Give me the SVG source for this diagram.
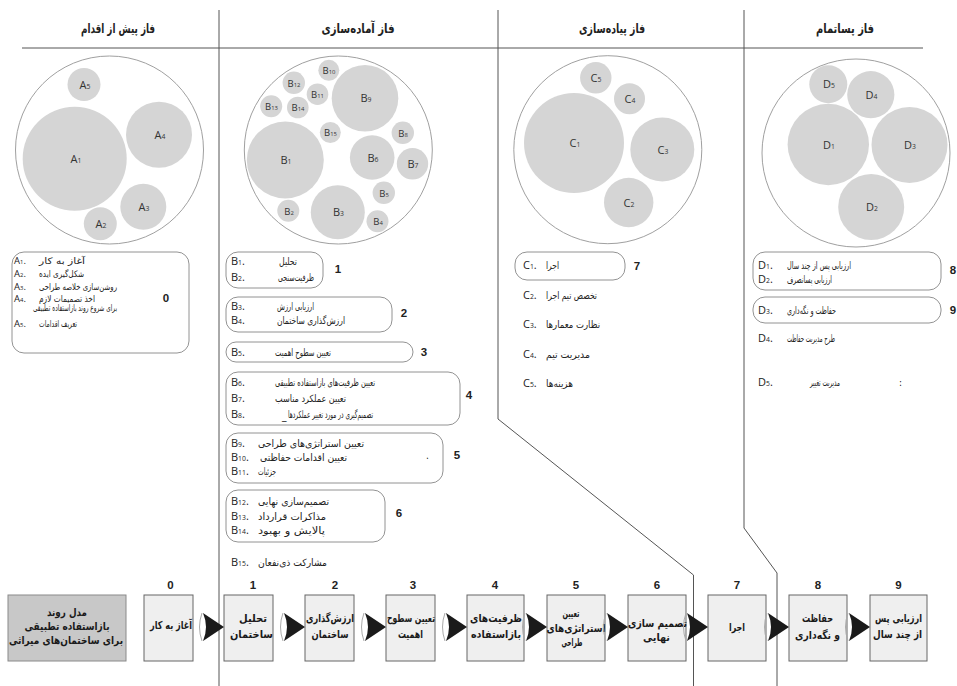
<svg xmlns="http://www.w3.org/2000/svg" width="957" height="686" viewBox="0 0 957 686">
<style>
.div{fill:none;stroke:#555;stroke-width:1}
.hd{font-family:'DejaVu Sans Condensed','DejaVu Sans',sans-serif;font-weight:bold;font-size:13px;fill:#222;text-anchor:middle}
.ring{fill:#fff;stroke:#a0a0a0;stroke-width:1}
.bub{fill:#d5d5d5}
.cl{font-family:'Open Sans','Liberation Sans',sans-serif;font-size:11px;fill:#333;text-anchor:middle}
.cs{font-family:'Open Sans','Liberation Sans',sans-serif;font-size:9.5px;fill:#333;text-anchor:middle}
.s{font-size:0.62em}
.lb{fill:#fff;stroke:#777;stroke-width:0.8}
.lab{font-family:'Open Sans','Liberation Sans',sans-serif;font-size:11px;fill:#222}
.la{font-size:9.5px}
.fa{font-family:'DejaVu Sans Condensed','DejaVu Sans',sans-serif;font-size:10px;fill:#222}
.fs{font-size:9px}
.fe{text-anchor:end}
.num{font-family:'Liberation Sans',Arial,sans-serif;font-weight:bold;font-size:11.5px;fill:#222;text-anchor:middle}
.fb{fill:#efefef;stroke:#666;stroke-width:1}
.mb{fill:#c8c8c8;stroke:#8a8a8a;stroke-width:1}
.ft{font-family:'DejaVu Sans Condensed','DejaVu Sans',sans-serif;font-weight:bold;font-size:11px;fill:#1a1a1a;text-anchor:middle}
.arr{fill:#1a1a1a}
.arc{fill:none;stroke:#aaa;stroke-width:1}
</style>
<defs>
<g id="tri"><path class="arc" d="M-22,-14 Q-27,0 -22,14"/><path class="arr" d="M-21,-14 Q-15,0 -21,14 L0,0 Z"/></g>
</defs>
<rect width="957" height="686" fill="#fff"/>

<g id="phase-lines">
<line class="div" x1="22" y1="48" x2="923" y2="48"/>
<path class="div" d="M219,10 V686"/>
<path class="div" d="M498,10 V419 L693.5,575 V686"/>
<path class="div" d="M744,10 V528 L777,573 V686"/>
</g>

<g id="phase-headers">
<text class="hd" x="118" y="33" textLength="74" lengthAdjust="spacingAndGlyphs">فاز پیش از اقدام</text>
<text class="hd" x="358" y="33" textLength="73" lengthAdjust="spacingAndGlyphs">فاز آماده‌سازی</text>
<text class="hd" x="612" y="33" textLength="66" lengthAdjust="spacingAndGlyphs">فاز پیاده‌سازی</text>
<text class="hd" x="845" y="33" textLength="58" lengthAdjust="spacingAndGlyphs">فاز پساتمام</text>
</g>

<g id="circles-A">
<circle class="ring" cx="109.5" cy="150" r="94"/>
<circle class="bub" cx="74.7" cy="158.7" r="52"/>
<circle class="bub" cx="159" cy="134.7" r="33"/>
<circle class="bub" cx="84" cy="84.5" r="16.5"/>
<circle class="bub" cx="143.3" cy="206.7" r="23"/>
<circle class="bub" cx="100.3" cy="223.7" r="16.5"/>
<text class="cl" x="76" y="163">A<tspan class="s">1</tspan></text>
<text class="cl" x="160" y="139">A<tspan class="s">4</tspan></text>
<text class="cl" x="85" y="89">A<tspan class="s">5</tspan></text>
<text class="cl" x="144" y="211">A<tspan class="s">3</tspan></text>
<text class="cl" x="101" y="228">A<tspan class="s">2</tspan></text>
</g>

<g id="circles-B">
<circle class="ring" cx="338.3" cy="150" r="94"/>
<circle class="bub" cx="285.3" cy="160" r="38.5"/>
<circle class="bub" cx="365" cy="98.3" r="33.3"/>
<circle class="bub" cx="337.8" cy="212.2" r="27"/>
<circle class="bub" cx="372.2" cy="157.5" r="22.3"/>
<circle class="bub" cx="412.5" cy="163.8" r="15.7"/>
<circle class="bub" cx="402.8" cy="132.8" r="11.2"/>
<circle class="bub" cx="383.8" cy="192.8" r="11.2"/>
<circle class="bub" cx="377.5" cy="221.2" r="11"/>
<circle class="bub" cx="288.3" cy="210.8" r="11"/>
<circle class="bub" cx="330.3" cy="132.5" r="10.5"/>
<circle class="bub" cx="328.8" cy="70.3" r="10.5"/>
<circle class="bub" cx="317.5" cy="94.2" r="10.8"/>
<circle class="bub" cx="293.8" cy="82.8" r="11.2"/>
<circle class="bub" cx="297.8" cy="107.5" r="10.8"/>
<circle class="bub" cx="271.2" cy="106.2" r="11"/>
<text class="cl" x="286" y="164">B<tspan class="s">1</tspan></text>
<text class="cl" x="366" y="102">B<tspan class="s">9</tspan></text>
<text class="cl" x="338.5" y="216">B<tspan class="s">3</tspan></text>
<text class="cl" x="373" y="161.5">B<tspan class="s">6</tspan></text>
<text class="cl" x="413" y="168">B<tspan class="s">7</tspan></text>
<text class="cs" x="403" y="136.5">B<tspan class="s">8</tspan></text>
<text class="cs" x="384" y="196.5">B<tspan class="s">5</tspan></text>
<text class="cs" x="378" y="225">B<tspan class="s">4</tspan></text>
<text class="cs" x="289" y="214.5">B<tspan class="s">2</tspan></text>
<text class="cs" x="330.5" y="136">B<tspan class="s">15</tspan></text>
<text class="cs" x="329" y="74">B<tspan class="s">10</tspan></text>
<text class="cs" x="317.5" y="98">B<tspan class="s">11</tspan></text>
<text class="cs" x="294" y="86.5">B<tspan class="s">12</tspan></text>
<text class="cs" x="298" y="111">B<tspan class="s">14</tspan></text>
<text class="cs" x="271.5" y="110">B<tspan class="s">13</tspan></text>
</g>

<g id="circles-C">
<circle class="ring" cx="607.8" cy="149.7" r="94"/>
<circle class="bub" cx="574" cy="143" r="50"/>
<circle class="bub" cx="662.3" cy="149.5" r="32"/>
<circle class="bub" cx="628.7" cy="202.5" r="24.7"/>
<circle class="bub" cx="629.5" cy="98.7" r="15.5"/>
<circle class="bub" cx="595.8" cy="77.8" r="15.7"/>
<text class="cl" x="575" y="147">C<tspan class="s">1</tspan></text>
<text class="cl" x="663" y="153.5">C<tspan class="s">3</tspan></text>
<text class="cl" x="629" y="206.5">C<tspan class="s">2</tspan></text>
<text class="cl" x="630" y="102.5">C<tspan class="s">4</tspan></text>
<text class="cl" x="596" y="82">C<tspan class="s">5</tspan></text>
</g>

<g id="circles-D">
<circle class="ring" cx="856" cy="153" r="94"/>
<circle class="bub" cx="828.3" cy="144.5" r="40.7"/>
<circle class="bub" cx="909.5" cy="145" r="38"/>
<circle class="bub" cx="871.2" cy="207" r="33"/>
<circle class="bub" cx="870.8" cy="94.7" r="23.6"/>
<circle class="bub" cx="828.3" cy="84.2" r="19"/>
<text class="cl" x="829" y="148.5">D<tspan class="s">1</tspan></text>
<text class="cl" x="910" y="149">D<tspan class="s">3</tspan></text>
<text class="cl" x="872" y="211">D<tspan class="s">2</tspan></text>
<text class="cl" x="871.5" y="98.5">D<tspan class="s">4</tspan></text>
<text class="cl" x="829" y="88">D<tspan class="s">5</tspan></text>
</g>

<g id="list-A">
<rect class="lb" x="12" y="252" width="177" height="101" rx="12"/>
<text class="lab la" x="14" y="263.5">A<tspan class="s">1</tspan>.</text><text class="fa fs" x="39" y="263.5" textLength="46" lengthAdjust="spacingAndGlyphs">آغاز به کار</text>
<text class="lab la" x="14" y="277">A<tspan class="s">2</tspan>.</text><text class="fa fs" x="39" y="277" textLength="45" lengthAdjust="spacingAndGlyphs">شکل‌گیری ایده</text>
<text class="lab la" x="14" y="290">A<tspan class="s">3</tspan>.</text><text class="fa fs" x="39" y="290" textLength="78" lengthAdjust="spacingAndGlyphs">روشن‌سازی خلاصه طراحی</text>
<text class="lab la" x="14" y="301.5">A<tspan class="s">4</tspan>.</text><text class="fa fs" x="39" y="301.5" textLength="56" lengthAdjust="spacingAndGlyphs">اخذ تصمیمات لازم</text>
<text class="fa fs fe" x="117" y="311" textLength="84" lengthAdjust="spacingAndGlyphs">برای شروع روند بازاستفاده تطبیقی</text>
<text class="lab la" x="14" y="327">A<tspan class="s">5</tspan>.</text><text class="fa fs" x="39" y="327" textLength="38" lengthAdjust="spacingAndGlyphs">تعریف اقدامات</text>
<text class="num" x="166" y="302">0</text>
</g>

<g id="list-B1">
<rect class="lb" x="226" y="252" width="97" height="36" rx="12"/>
<text class="lab" x="231" y="264.5">B<tspan class="s">1</tspan>.</text><text class="fa" x="279" y="264.5" textLength="18" lengthAdjust="spacingAndGlyphs">تحلیل</text>
<text class="lab" x="231" y="280.5">B<tspan class="s">2</tspan>.</text><text class="fa" x="278" y="280.5" textLength="36" lengthAdjust="spacingAndGlyphs">ظرفیت‌سنجی</text>
<text class="num" x="338" y="273">1</text>
</g>
<g id="list-B2">
<rect class="lb" x="226" y="297" width="166" height="35" rx="12"/>
<text class="lab" x="231" y="309.5">B<tspan class="s">3</tspan>.</text><text class="fa" x="277" y="309.5" textLength="37" lengthAdjust="spacingAndGlyphs">ارزیابی ارزش</text>
<text class="lab" x="231" y="323.5">B<tspan class="s">4</tspan>.</text><text class="fa" x="277" y="323.5" textLength="68" lengthAdjust="spacingAndGlyphs">ارزش‌گذاری ساختمان</text>
<text class="num" x="404" y="317">2</text>
</g>
<g id="list-B3">
<rect class="lb" x="226" y="342" width="187" height="20" rx="10"/>
<text class="lab" x="231" y="356">B<tspan class="s">5</tspan>.</text><text class="fa" x="275" y="356" textLength="56" lengthAdjust="spacingAndGlyphs">تعیین سطوح اهمیت</text>
<text class="num" x="424" y="356">3</text>
</g>
<g id="list-B4">
<rect class="lb" x="226" y="372" width="234" height="53" rx="12"/>
<text class="lab" x="231" y="386">B<tspan class="s">6</tspan>.</text><text class="fa" x="275" y="386" textLength="100" lengthAdjust="spacingAndGlyphs">تعیین ظرفیت‌های بازاستفاده تطبیقی</text>
<text class="lab" x="231" y="402">B<tspan class="s">7</tspan>.</text><text class="fa" x="275" y="402" textLength="71" lengthAdjust="spacingAndGlyphs">تعیین عملکرد مناسب</text>
<text class="lab" x="231" y="417.5">B<tspan class="s">8</tspan>.</text><text class="fa" x="282" y="418.5">_</text><text class="fa" x="288" y="417.5" textLength="85" lengthAdjust="spacingAndGlyphs">تصمیم‌گیری در مورد تغییر عملکردها</text>
<text class="num" x="469" y="399">4</text>
</g>
<g id="list-B5">
<rect class="lb" x="226" y="433" width="217" height="50" rx="12"/>
<text class="lab" x="231" y="447">B<tspan class="s">9</tspan>.</text><text class="fa" x="258" y="447" textLength="106" lengthAdjust="spacingAndGlyphs">تعیین استراتژی‌های طراحی</text>
<text class="lab" x="231" y="461">B<tspan class="s">10</tspan>.</text><text class="fa" x="260" y="461" textLength="87" lengthAdjust="spacingAndGlyphs">تعیین اقدامات حفاظتی</text>
<text class="lab" x="231" y="475">B<tspan class="s">11</tspan>.</text><text class="fa" x="258" y="475" textLength="18" lengthAdjust="spacingAndGlyphs">جزئیات</text>
<text class="fa" x="426" y="459">.</text>
<text class="num" x="457" y="459">5</text>
</g>
<g id="list-B6">
<rect class="lb" x="226" y="490" width="159" height="52" rx="12"/>
<text class="lab" x="231" y="504.5">B<tspan class="s">12</tspan>.</text><text class="fa" x="258" y="504.5" textLength="71" lengthAdjust="spacingAndGlyphs">تصمیم‌سازی نهایی</text>
<text class="lab" x="231" y="520">B<tspan class="s">13</tspan>.</text><text class="fa" x="258" y="520" textLength="68" lengthAdjust="spacingAndGlyphs">مذاکرات قرارداد</text>
<text class="lab" x="231" y="534">B<tspan class="s">14</tspan>.</text><text class="fa" x="258" y="534" textLength="67" lengthAdjust="spacingAndGlyphs">پالایش و بهبود</text>
<text class="num" x="399" y="517">6</text>
</g>
<g id="list-B15">
<text class="lab" x="231" y="566">B<tspan class="s">15</tspan>.</text><text class="fa" x="258" y="566" textLength="69" lengthAdjust="spacingAndGlyphs">مشارکت ذی‌نفعان</text>
</g>

<g id="list-C">
<rect class="lb" x="515" y="252" width="110" height="28" rx="12"/>
<text class="lab" x="523" y="269">C<tspan class="s">1</tspan>.</text><text class="fa" x="546" y="269" textLength="13" lengthAdjust="spacingAndGlyphs">اجرا</text>
<text class="num" x="637" y="270">7</text>
<text class="lab" x="523" y="299">C<tspan class="s">2</tspan>.</text><text class="fa" x="546" y="299" textLength="51" lengthAdjust="spacingAndGlyphs">تخصص تیم اجرا</text>
<text class="lab" x="523" y="328">C<tspan class="s">3</tspan>.</text><text class="fa" x="546" y="328" textLength="54" lengthAdjust="spacingAndGlyphs">نظارت معمارها</text>
<text class="lab" x="523" y="357.5">C<tspan class="s">4</tspan>.</text><text class="fa" x="546" y="357.5" textLength="44" lengthAdjust="spacingAndGlyphs">مدیریت تیم</text>
<text class="lab" x="523" y="386.5">C<tspan class="s">5</tspan>.</text><text class="fa" x="546" y="386.5" textLength="27" lengthAdjust="spacingAndGlyphs">هزینه‌ها</text>
</g>

<g id="list-D">
<rect class="lb" x="753" y="252" width="188" height="38" rx="12"/>
<text class="lab" x="758" y="269">D<tspan class="s">1</tspan>.</text><text class="fa" x="787" y="269" textLength="64" lengthAdjust="spacingAndGlyphs">ارزیابی پس از چند سال</text>
<text class="lab" x="758" y="283">D<tspan class="s">2</tspan>.</text><text class="fa" x="787" y="283" textLength="45" lengthAdjust="spacingAndGlyphs">ارزیابی پسانصرف</text>
<text class="num" x="953" y="274">8</text>
<rect class="lb" x="753" y="297" width="188" height="26" rx="12"/>
<text class="lab" x="758" y="314">D<tspan class="s">3</tspan>.</text><text class="fa" x="787" y="314" textLength="49" lengthAdjust="spacingAndGlyphs">حفاظت و نگه‌داری</text>
<text class="num" x="953" y="314">9</text>
<text class="lab" x="758" y="341.5">D<tspan class="s">4</tspan>.</text><text class="fa" x="787" y="341.5" textLength="48" lengthAdjust="spacingAndGlyphs">طرح مدیریت حفاظت</text>
<text class="lab" x="758" y="385.5">D<tspan class="s">5</tspan>.</text><text class="fa" x="810" y="385.5" textLength="30" lengthAdjust="spacingAndGlyphs">مدیریت تغییر</text>
<text class="fa" x="899" y="385.5">:</text>
</g>

<g id="model">
<rect class="mb" x="8" y="595" width="118" height="66"/>
<text class="ft" x="67" y="615.5" textLength="40" lengthAdjust="spacingAndGlyphs">مدل روند</text>
<text class="ft" x="67" y="629.5" textLength="85" lengthAdjust="spacingAndGlyphs">بازاستفاده تطبیقی</text>
<text class="ft" x="66" y="644" textLength="114" lengthAdjust="spacingAndGlyphs">برای ساختمان‌های میراثی</text>
</g>
<g id="step-0"><rect class="fb" x="144" y="595" width="49" height="66"/><text class="ft" x="171" y="629" textLength="42" lengthAdjust="spacingAndGlyphs">آغاز به کار</text><text class="num" x="170.5" y="589">0</text></g>
<g id="step-1"><rect class="fb" x="224" y="595" width="49" height="66"/><text class="ft" x="253" y="622" textLength="28" lengthAdjust="spacingAndGlyphs">تحلیل</text><text class="ft" x="251.5" y="637.5" textLength="43" lengthAdjust="spacingAndGlyphs">ساختمان</text><text class="num" x="253" y="589">1</text></g>
<g id="step-2"><rect class="fb" x="305" y="595" width="49" height="66"/><text class="ft" x="330" y="622" textLength="48" lengthAdjust="spacingAndGlyphs">ارزش‌گذاری</text><text class="ft" x="330" y="637.5" textLength="37" lengthAdjust="spacingAndGlyphs">ساختمان</text><text class="num" x="335" y="589">2</text></g>
<g id="step-3"><rect class="fb" x="386" y="595" width="49" height="66"/><text class="ft" x="411" y="622" textLength="48" lengthAdjust="spacingAndGlyphs">تعیین سطوح</text><text class="ft" x="410.5" y="637.5" textLength="25" lengthAdjust="spacingAndGlyphs">اهمیت</text><text class="num" x="413" y="589">3</text></g>
<g id="step-4"><rect class="fb" x="467" y="595" width="57" height="66"/><text class="ft" x="496" y="622" textLength="52" lengthAdjust="spacingAndGlyphs">ظرفیت‌های</text><text class="ft" x="496" y="637.5" textLength="50" lengthAdjust="spacingAndGlyphs">بازاستفاده</text><text class="num" x="495" y="589">4</text></g>
<g id="step-5"><rect class="fb" x="547" y="595" width="58" height="66"/><text class="ft" x="571" y="617" textLength="17" lengthAdjust="spacingAndGlyphs">تعیین</text><text class="ft" x="576" y="631.5" textLength="59" lengthAdjust="spacingAndGlyphs">استراتژی‌های</text><text class="ft" x="572" y="646" textLength="21" lengthAdjust="spacingAndGlyphs">طراحی</text><text class="num" x="576" y="589">5</text></g>
<g id="step-6"><rect class="fb" x="628" y="595" width="58" height="66"/><text class="ft" x="657.5" y="626.5" textLength="59" lengthAdjust="spacingAndGlyphs">تصمیم سازی</text><text class="ft" x="656.5" y="641" textLength="27" lengthAdjust="spacingAndGlyphs">نهایی</text><text class="num" x="657" y="589">6</text></g>
<g id="step-7"><rect class="fb" x="708" y="595" width="58" height="66"/><text class="ft" x="737" y="630.5" textLength="16" lengthAdjust="spacingAndGlyphs">اجرا</text><text class="num" x="737" y="589">7</text></g>
<g id="step-8"><rect class="fb" x="789" y="595" width="58" height="66"/><text class="ft" x="817.5" y="622" textLength="31" lengthAdjust="spacingAndGlyphs">حفاظت</text><text class="ft" x="817.5" y="638.5" textLength="45" lengthAdjust="spacingAndGlyphs">و نگه‌داری</text><text class="num" x="818" y="589">8</text></g>
<g id="step-9"><rect class="fb" x="870" y="595" width="57" height="66"/><text class="ft" x="898.5" y="622" textLength="47" lengthAdjust="spacingAndGlyphs">ارزیابی پس</text><text class="ft" x="897.5" y="637.5" textLength="49" lengthAdjust="spacingAndGlyphs">از چند سال</text><text class="num" x="898.5" y="589">9</text></g>

<g id="connectors">
<use href="#tri" x="224" y="627"/>
<use href="#tri" x="305" y="627"/>
<use href="#tri" x="386" y="627"/>
<use href="#tri" x="467" y="627"/>
<use href="#tri" x="547" y="627"/>
<use href="#tri" x="628" y="627"/>
<use href="#tri" x="708" y="627"/>
<use href="#tri" x="789" y="627"/>
<use href="#tri" x="870" y="627"/>
</g>
</svg>
